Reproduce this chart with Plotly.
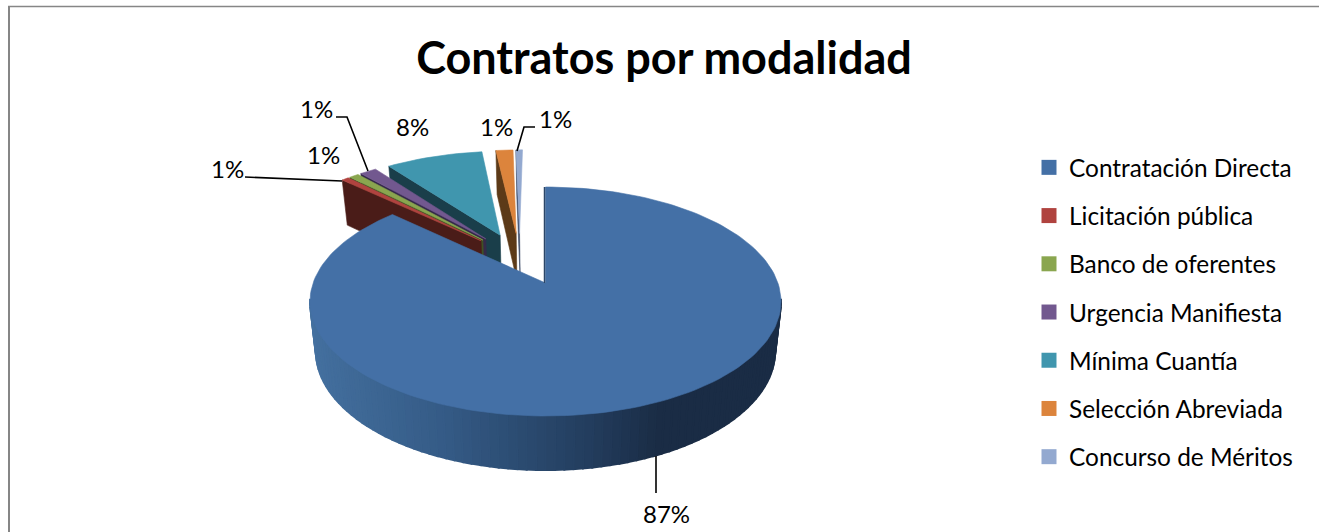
import math
import plotly.graph_objects as go

# ---- data ----
categories = ["Contratación Directa", "Licitación pública", "Banco de oferentes",
              "Urgencia Manifiesta", "Mínima Cuantía", "Selección Abreviada", "Concurso de Méritos"]
values = [86.6, 0.6, 0.8, 1.4, 8.2, 1.45, 0.55]
top_colors = ["#4470a6", "#b0433f", "#8aa64f", "#72588f", "#4096ae", "#dc843c", "#93a9d0"]
side_colors = ["#1a2c45", "#4a1c18", "#3f5324", "#352a4a", "#1a3e4a", "#5c3a18", "#3a4a66"]
label_xy = [(666, 513), (227, 168), (323, 154), (316, 108), (412, 126), (496, 126), (555, 118)]
leaders = [[(656, 456), (656, 493)], [(245, 177), (342, 181)], [],
           [(336, 117), (347, 117), (368, 171)], [], [], [(535, 127), (524, 127), (517, 151)]]

# ---- projection of the exploded tilted pie ----
CX, Y0, A, B, K = 545.5, 283.0, 232.4, 111.5, 0.1615
SX, SY, Y0L = 0.975, 1.038, 332.0
EXPLODE = 0.25
SMALL_DX = -3.5
FONT = "Lato"


def top(u, v, dx=0.0):
    w = 1 + K * v
    return CX + dx + A * u / w, Y0 - B * v / w


def low(u, v, dx=0.0):
    x, y = top(u, v, dx)
    return CX + SX * (x - CX), Y0L + SY * (y - Y0)


total = sum(values)
angles = [0.0]
for val in values:
    angles.append(angles[-1] + 360.0 * val / total)


def pol(a, r=1.0):
    t = math.radians(a)
    return r * math.sin(t), r * math.cos(t)


m0 = (angles[0] + angles[1]) / 2
cu, cv = pol(m0 + 180, EXPLODE)   # pie centre relative to the first slice's apex


def offset(i):
    mid = (angles[i] + angles[i + 1]) / 2
    ou, ov = pol(mid, EXPLODE)
    return cu + ou, cv + ov


def mix(c1, c2, t):
    a = [int(c1[j:j + 2], 16) for j in (1, 3, 5)]
    b = [int(c2[j:j + 2], 16) for j in (1, 3, 5)]
    return "#%02x%02x%02x" % tuple(round(p + (q - p) * t) for p, q in zip(a, b))


def poly(fig, pts, color, lw=0.6):
    fig.add_trace(go.Scatter(x=[p[0] for p in pts] + [pts[0][0]], y=[p[1] for p in pts] + [pts[0][1]],
                             mode="lines", fill="toself", fillcolor=color,
                             line=dict(color=color, width=lw),
                             showlegend=False, hoverinfo="skip"))


fig = go.Figure()

# exploded small slices, back to front
for i in [6, 5, 4, 3, 2, 1]:
    ou, ov = offset(i)
    a0, a1 = angles[i], angles[i + 1]
    su, sv = pol(a0)
    d = SMALL_DX
    poly(fig, [top(ou + su, ov + sv, d), top(ou, ov, d), low(ou, ov, d), low(ou + su, ov + sv, d)], side_colors[i])
    arc = [a0 + (a1 - a0) * n / 12 for n in range(13)]
    poly(fig, [top(ou, ov, d)] + [top(ou + pol(a)[0], ov + pol(a)[1], d) for a in arc], top_colors[i])

# first slice: shaded rim, then top face
ou, ov = offset(0)
stops = [(0.0, "#44709f"), (0.3, "#345a85"), (0.6, "#233d5e"), (0.75, "#1a2c45"), (1.0, "#1a2c45")]
rim = list(range(98, 264, 2))
for a, b in zip(rim[:-1], rim[1:]):
    pu, pv = pol(a)
    qu, qv = pol(b)
    px = top(ou + pu, ov + pv)[0]
    t = (px - 310) / 471
    col = stops[-1][1]
    for (t0, c0), (t1, c1) in zip(stops[:-1], stops[1:]):
        if t0 <= t <= t1:
            col = mix(c0, c1, (t - t0) / (t1 - t0))
            break
    poly(fig, [top(ou + pu, ov + pv), top(ou + qu, ov + qv), low(ou + qu, ov + qv), low(ou + pu, ov + pv)], col, lw=2.0)

arc = [angles[0] + (angles[1] - angles[0]) * n / 180 for n in range(181)]
poly(fig, [top(ou, ov)] + [top(ou + pol(a)[0], ov + pol(a)[1]) for a in arc], top_colors[0])
edge = [top(ou, ov), top(ou + pol(angles[0])[0], ov + pol(angles[0])[1])]
fig.add_trace(go.Scatter(x=[p[0] - 1 for p in edge], y=[p[1] for p in edge], mode="lines",
                         line=dict(color="#2b4668", width=1.5), showlegend=False, hoverinfo="skip"))

# leader lines
for pts in leaders:
    if pts:
        fig.add_trace(go.Scatter(x=[p[0] for p in pts], y=[p[1] for p in pts], mode="lines",
                                 line=dict(color="#000000", width=1.6), showlegend=False, hoverinfo="skip"))

# legend entries
for name, col in zip(categories, top_colors):
    fig.add_trace(go.Scatter(x=[None], y=[None], mode="markers", name=name, legendgroup=name,
                             marker=dict(symbol="square", size=15, color=col)))

annotations = [dict(x=x, y=y, text=f"{max(round(v), 1)}%", showarrow=False, xref="x", yref="y",
                    font=dict(family=FONT, size=24, color="#000000"))
               for (x, y), v in zip(label_xy, values)]

fig.update_layout(
    width=1319, height=532, autosize=False,
    margin=dict(l=0, r=0, t=0, b=0),
    paper_bgcolor="#ffffff", plot_bgcolor="#ffffff",
    title=dict(text="<b>Contratos por modalidad</b>", x=664 / 1319, xanchor="center",
               y=1 - 58 / 532, yanchor="middle", font=dict(family=FONT, size=45, color="#000000")),
    xaxis=dict(range=[0, 1319], visible=False, fixedrange=True),
    yaxis=dict(range=[532, 0], visible=False, fixedrange=True),
    legend=dict(x=1029 / 1319, y=1 - 145 / 532, xanchor="left", yanchor="top", traceorder="grouped",
                tracegroupgap=13.5, itemclick=False, bgcolor="rgba(0,0,0,0)",
                font=dict(family=FONT, size=24.4, color="#000000")),
    annotations=annotations,
    shapes=[dict(type="line", xref="x", yref="y", x0=9, x1=9, y0=6, y1=532, line=dict(color="#868686", width=2)),
            dict(type="line", xref="x", yref="y", x0=8, x1=1319, y0=6.5, y1=6.5, line=dict(color="#868686", width=1.5))],
)
fig.write_html("out.html", config=dict(displayModeBar=False),
               post_script="document.body.style.margin='0';document.documentElement.style.overflow='hidden';")
